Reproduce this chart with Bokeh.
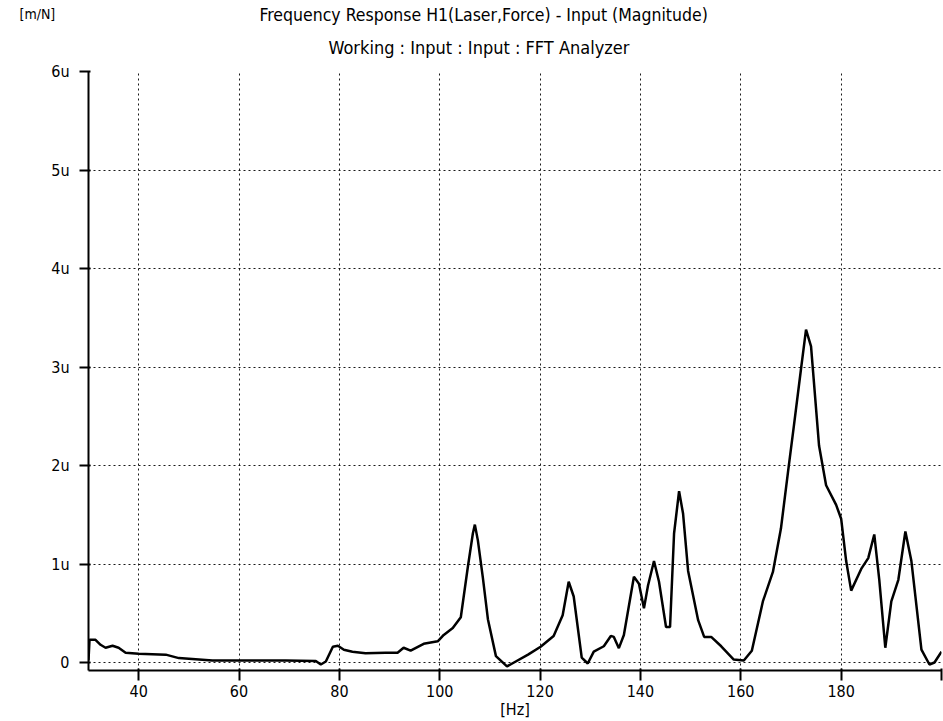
from bokeh.plotting import figure
from bokeh.models import FixedTicker, Label, Range1d, Title
from bokeh.embed import file_html
from bokeh.resources import INLINE

# Frequency [Hz] and magnitude [u = 1e-6 m/N]
freq = [30.0, 30.2, 31.4, 32.4, 33.4, 34.8, 36.0, 37.4, 40.0, 45.4, 48.0, 54.7, 60.3, 69.3, 75.3,
        76.3, 77.3, 78.7, 79.7, 80.9, 82.6, 85.2, 89.2, 91.6, 92.8, 94.2, 96.8, 99.6, 100.8,
        102.6, 104.2, 105.6, 106.6, 107.0, 107.6, 108.6, 109.6, 111.2, 113.4, 114.8, 117.6,
        120.1, 122.7, 124.5, 125.7, 126.7, 128.3, 129.5, 130.7, 132.7, 134.1, 134.7, 135.7,
        136.7, 138.7, 139.7, 140.7, 141.5, 142.7, 143.7, 145.1, 145.9, 146.7, 147.7, 148.5,
        149.5, 151.5, 152.7, 154.1, 156.1, 158.6, 160.6, 162.2, 164.4, 166.4, 168.0, 169.4,
        170.6, 172.0, 173.0, 174.0, 175.6, 177.0, 179.0, 180.0, 181.0, 182.0, 184.0, 185.4,
        186.6, 187.6, 188.8, 190.0, 191.4, 192.8, 194.0, 196.0, 197.6, 198.6, 200.0]
mag = [0.02, 0.23, 0.23, 0.18, 0.15, 0.17, 0.15, 0.10, 0.09, 0.08, 0.045, 0.02, 0.02, 0.02,
       0.015, -0.02, 0.01, 0.16, 0.17, 0.13, 0.11, 0.095, 0.10, 0.10, 0.15, 0.12, 0.19, 0.215,
       0.28, 0.35, 0.46, 0.97, 1.31, 1.40, 1.24, 0.86, 0.44, 0.065, -0.04, 0.0, 0.08, 0.16,
       0.27, 0.48, 0.82, 0.67, 0.05, -0.01, 0.11, 0.165, 0.27, 0.26, 0.146, 0.28, 0.87, 0.80,
       0.55, 0.78, 1.03, 0.82, 0.36, 0.36, 1.31, 1.74, 1.51, 0.93, 0.43, 0.26, 0.26, 0.165,
       0.03, 0.02, 0.12, 0.62, 0.92, 1.36, 1.93, 2.41, 2.98, 3.38, 3.21, 2.20, 1.80, 1.60,
       1.46, 1.03, 0.73, 0.95, 1.06, 1.30, 0.84, 0.15, 0.62, 0.84, 1.33, 1.03, 0.13, -0.02,
       0.0, 0.11]

x_ticks = [40, 60, 80, 100, 120, 140, 160, 180, 200]
x_tick_labels = {200: ""}
y_ticks = [0, 1, 2, 3, 4, 5, 6]
y_tick_labels = {0: "0", 1: "1u", 2: "2u", 3: "3u", 4: "4u", 5: "5u", 6: "6u"}

title_text = "Frequency Response H1(Laser,Force) - Input (Magnitude)"
subtitle_text = "Working : Input : Input : FFT Analyzer"
unit_text = "[m/N]"
x_label = "[Hz]"

FONT = "DejaVu Sans Condensed"

p = figure(width=943, height=721, output_backend="svg", toolbar_location=None,
           x_range=Range1d(30, 200), y_range=Range1d(-0.081, 6.0),
           min_border_left=88, min_border_right=2, min_border_top=71, min_border_bottom=49)
p.outline_line_color = None
p.background_fill_color = "white"
p.border_fill_color = "white"

p.line(freq, mag, line_color="black", line_width=2.5)

for ax in (p.xaxis, p.yaxis):
    ax.axis_line_color = "black"
    ax.axis_line_width = 2
    ax.major_tick_line_color = "black"
    ax.major_tick_line_width = 2
    ax.minor_tick_line_color = None
    ax.major_label_text_font = FONT
    ax.major_label_text_font_size = "16px"
    ax.major_label_text_color = "black"

p.xaxis.ticker = FixedTicker(ticks=x_ticks)
p.xaxis.major_label_overrides = x_tick_labels
p.xaxis.major_tick_out = 10
p.xaxis.major_tick_in = 2
p.xaxis.major_label_standoff = 4
p.xaxis.axis_label = x_label
p.xaxis.axis_label_text_font = FONT
p.xaxis.axis_label_text_font_style = "normal"
p.xaxis.axis_label_text_color = "black"
p.xaxis.axis_label_text_font_size = "16px"
p.xaxis.axis_label_standoff = 0

p.yaxis.ticker = FixedTicker(ticks=y_ticks)
p.yaxis.major_label_overrides = y_tick_labels
p.yaxis.major_tick_out = 9
p.yaxis.major_tick_in = 2
p.yaxis.major_label_standoff = 10

p.xgrid.ticker = FixedTicker(ticks=x_ticks)
p.ygrid.ticker = FixedTicker(ticks=y_ticks)
for g in (p.xgrid, p.ygrid):
    g.grid_line_color = "black"
    g.grid_line_width = 1
    g.grid_line_dash = "2 3"
    g.grid_line_alpha = 0.9

p.add_layout(Title(text=subtitle_text, align="left", offset=240, text_font=FONT,
                   text_font_size="18px", text_font_style="normal", text_color="black",
                   vertical_align="top", standoff=23), "above")
p.add_layout(Title(text=title_text, align="left", offset=171, text_font=FONT,
                   text_font_size="17.5px", text_font_style="normal", text_color="black",
                   standoff=1), "above")
p.add_layout(Label(x=7, y=657, x_units="screen", y_units="screen", text=unit_text,
                   text_align="left", text_baseline="middle",
                   text_font=FONT, text_font_size="14px", text_color="black"), "left")

open("out.html", "w").write(file_html(p, INLINE))
